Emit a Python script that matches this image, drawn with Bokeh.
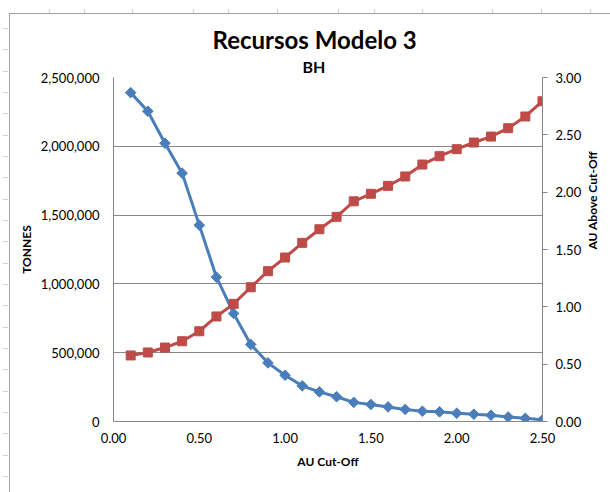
import math

from bokeh.plotting import figure
from bokeh.models import Range1d, LinearAxis, FixedTicker, NumeralTickFormatter, Title
from bokeh.embed import file_html
from bokeh.resources import INLINE

# Cut-off grades (g/t Au)
cutoff = [0.1, 0.2, 0.3, 0.4, 0.5, 0.6, 0.7, 0.8, 0.9, 1.0, 1.1, 1.2, 1.3,
          1.4, 1.5, 1.6, 1.7, 1.8, 1.9, 2.0, 2.1, 2.2, 2.3, 2.4, 2.5]

# Tonnes above each cut-off
tonnes = [2390000, 2255000, 2022000, 1805000, 1427000, 1049000, 785000,
          560000, 426000, 336000, 259000, 215000, 180000, 139000, 124000,
          106000, 88000, 75000, 70000, 60000, 53000, 46000, 33000, 23000,
          12000]

# Average Au grade above each cut-off
grade = [0.576, 0.602, 0.645, 0.700, 0.787, 0.916, 1.026, 1.171, 1.311,
         1.430, 1.558, 1.677, 1.785, 1.920, 1.986, 2.055, 2.137, 2.241,
         2.314, 2.375, 2.433, 2.485, 2.558, 2.660, 2.793]

x_ticks = [0.0, 0.5, 1.0, 1.5, 2.0, 2.5]
tonnes_ticks = [0, 500000, 1000000, 1500000, 2000000, 2500000]
grade_ticks = [0.0, 0.5, 1.0, 1.5, 2.0, 2.5, 3.0]

FONT = "Lato"
AXIS_GRAY = "#868686"
BLUE = "#4A7EBB"
RED = "#BE4B48"

W, H = 610, 492
FRAME_LEFT = 113

p = figure(width=W, height=H, output_backend="svg", toolbar_location=None,
           title=None,
           x_range=Range1d(0, 2.5), y_range=Range1d(0, 2500000),
           min_border_left=FRAME_LEFT, min_border_right=68,
           min_border_top=77, min_border_bottom=71)
p.extra_y_ranges = {"grade": Range1d(0, 3.0)}
p.outline_line_color = None
p.background_fill_color = "white"
p.border_fill_color = None

# Spreadsheet backdrop: chart border plus the faint row/column markers
layers, sizes, positions = [], [], []


def add_rule(x, y, w, h, color):
    layers.append(f"linear-gradient({color}, {color})")
    sizes.append(f"{w}px {h}px")
    positions.append(f"{x}px {y}px")


add_rule(9, 13, 1, 479, "#a0a0a0")
add_rule(9, 13, 601, 1, "#a0a0a0")
for cx in [49, 84, 132, 193, 228, 277, 338, 374, 422, 492, 541, 590]:
    add_rule(cx, 9, 1, 4, "#d0d0d0")
for k in range(22):
    add_rule(3, round(28 + 21.33 * k), 5, 1, "#d0d0d0")

p.styles = {
    "background-color": "white",
    "background-image": ", ".join(layers),
    "background-size": ", ".join(sizes),
    "background-position": ", ".join(positions),
    "background-repeat": "no-repeat",
}

# Grid lines follow the tonnes axis
p.xgrid.visible = False
p.ygrid.ticker = FixedTicker(ticks=tonnes_ticks)
p.ygrid.grid_line_color = AXIS_GRAY
p.ygrid.grid_line_width = 1


def style_axis(ax):
    ax.axis_line_color = AXIS_GRAY
    ax.axis_line_width = 1
    ax.major_tick_line_color = AXIS_GRAY
    ax.minor_tick_line_color = None
    ax.major_label_text_font = FONT
    ax.major_label_text_font_size = "13px"
    ax.major_label_text_color = "black"
    ax.axis_label_text_font = FONT
    ax.axis_label_text_font_size = "12px"
    ax.axis_label_text_font_style = "bold"
    ax.axis_label_text_color = "black"


xa = p.xaxis[0]
style_axis(xa)
xa.ticker = FixedTicker(ticks=x_ticks)
xa.formatter = NumeralTickFormatter(format="0.00")
xa.major_tick_out = 0
xa.major_tick_in = 0
xa.major_label_standoff = 11
xa.axis_label = "AU Cut-Off"
xa.axis_label_standoff = 8

ya = p.yaxis[0]
style_axis(ya)
ya.ticker = FixedTicker(ticks=tonnes_ticks)
ya.formatter = NumeralTickFormatter(format="0,0")
ya.major_tick_out = 0
ya.major_tick_in = 0
ya.major_label_standoff = 14
ya.axis_label = "TONNES"
ya.axis_label_standoff = 4

ra = LinearAxis(y_range_name="grade")
style_axis(ra)
ra.ticker = FixedTicker(ticks=grade_ticks)
ra.formatter = NumeralTickFormatter(format="0.00")
ra.major_tick_out = 5
ra.major_tick_in = 0
ra.major_label_standoff = 8
ra.axis_label = "AU Above Cut-Off"
ra.axis_label_standoff = 8
if "axis_label_orientation" in ra.properties():
    # read bottom-to-top, like the left axis title
    ra.axis_label_orientation = math.pi / 2
p.add_layout(ra, "right")

# Series: tonnes (diamonds) and grade (squares)
p.line(cutoff, tonnes, line_color=BLUE, line_width=3, line_join="round")
p.scatter(cutoff, tonnes, marker="square", angle=45, angle_units="deg",
          size=7.5, fill_color=BLUE, line_color=BLUE)
p.line(cutoff, grade, y_range_name="grade", line_color=RED, line_width=3,
       line_join="round")
p.scatter(cutoff, grade, y_range_name="grade", marker="square", size=9,
          fill_color=RED, line_color=RED)

# Chart title and subtitle, left-aligned with an offset from the frame edge
p.add_layout(Title(text="BH", align="left", offset=302 - FRAME_LEFT,
                   standoff=3, text_font=FONT, text_font_size="16px",
                   text_font_style="bold", text_color="black"), "above")
p.add_layout(Title(text="Recursos Modelo 3", align="left",
                   offset=212 - FRAME_LEFT, standoff=0, text_font=FONT,
                   text_font_size="24px", text_font_style="bold",
                   text_color="black"), "above")

open("out.html", "w").write(file_html(p, INLINE))
